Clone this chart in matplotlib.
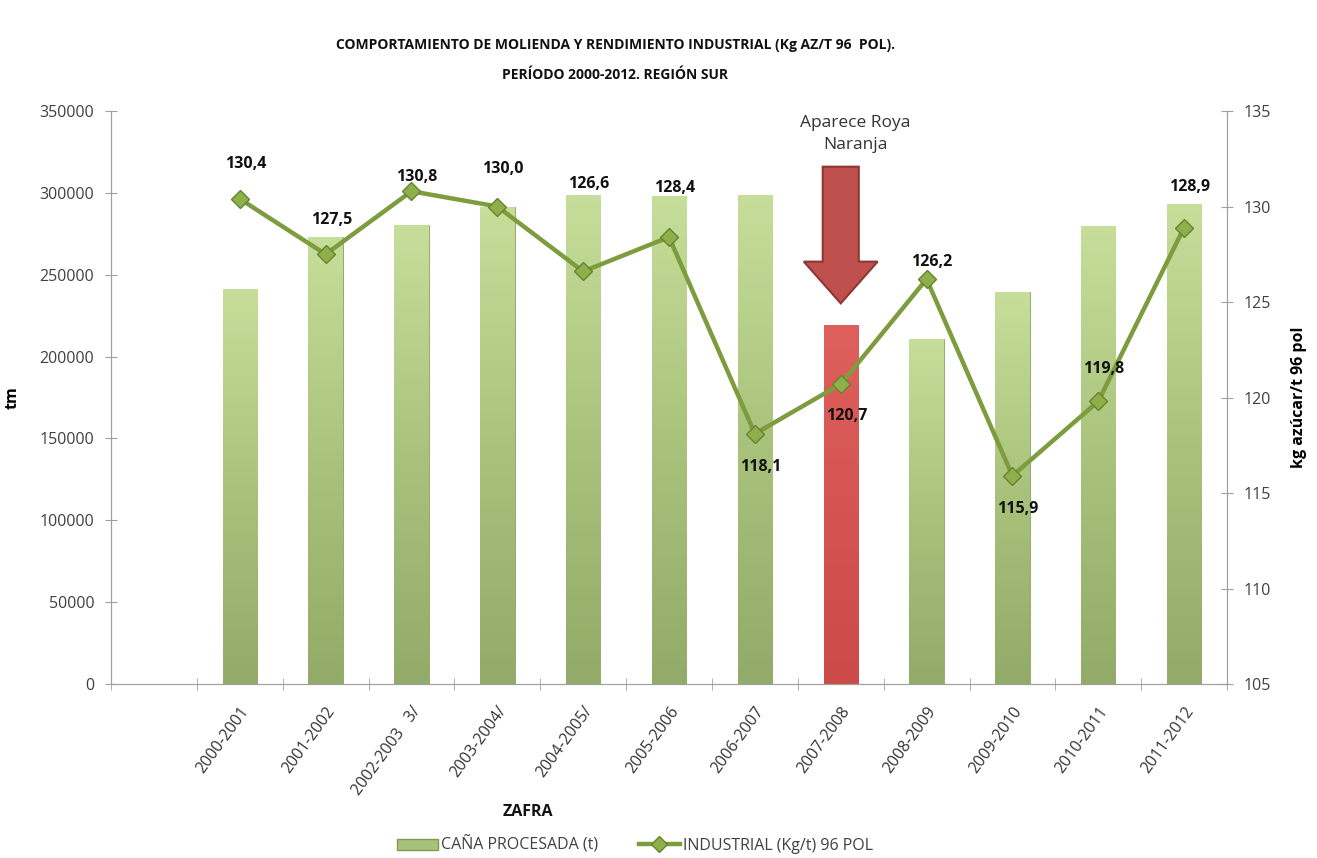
import numpy as np
import matplotlib
matplotlib.use("Agg")
import matplotlib.pyplot as plt
from matplotlib.patches import Patch, FancyArrow
from matplotlib.lines import Line2D
from matplotlib.colors import LinearSegmentedColormap

plt.rcParams['font.family'] = ['Open Sans', 'DejaVu Sans']

# datos
zafras = ['2000-2001', '2001-2002', '2002-2003   3/', '2003-2004/', '2004-2005/',
          '2005-2006', '2006-2007', '2007-2008', '2008-2009', '2009-2010',
          '2010-2011', '2011-2012']
cana = [241500, 273000, 280500, 291500, 299000, 298000, 299000, 219000,
        210500, 239500, 279500, 293500]
industrial = [130.4, 127.5, 130.8, 130.0, 126.6, 128.4, 118.1, 120.7,
              126.2, 115.9, 119.8, 128.9]
etiquetas = ['130,4', '127,5', '130,8', '130,0', '126,6', '128,4', '118,1',
             '120,7', '126,2', '115,9', '119,8', '128,9']
# desplazamiento vertical de cada etiqueta (puntos)
offs = [25, 25, 10, 27, 63, 35, -24, -23, 12, -24, 23, 29]
roya = 7  # indice de la zafra 2007-2008

verde = LinearSegmentedColormap.from_list('v', ['#92AB68', '#A9C27C', '#C6DE99'])
rojo = LinearSegmentedColormap.from_list('r', ['#CC4A48', '#DE5F5B'])

fig = plt.figure(figsize=(13.17, 8.58), dpi=100)
ax = fig.add_axes([0.0843, 0.2028, 0.8474, 0.6678])
ax2 = ax.twinx()

x = np.arange(len(zafras)) + 1.5
bars = ax.bar(x, cana, width=0.40, color='#B5D08A', edgecolor='#8AA060',
              linewidth=0.6, zorder=2)
grad = np.linspace(0, 1, 100).reshape(-1, 1)
for i, b in enumerate(bars):
    cm = rojo if i == roya else verde
    if i == roya:
        b.set_facecolor('#D4524F')
        b.set_edgecolor('#A03C3A')
    im = ax.imshow(grad, extent=[b.get_x(), b.get_x() + b.get_width(), 0, b.get_height()],
                   origin='lower', aspect='auto', cmap=cm, zorder=2.5)
    im.set_clip_path(b)

ax.set_xlim(0, 13)
ax.set_ylim(0, 350000)
ax.set_yticks(np.arange(0, 350001, 50000))
ax.set_xticks(x)
ax.set_xticklabels(zafras, rotation=54, ha='right', rotation_mode='anchor',
                   fontsize=11.5, color='#333333')
ax.set_xticks(np.arange(0, 14), minor=True)
ax.tick_params(axis='x', which='major', length=0, pad=14)
ax.tick_params(axis='x', which='minor', length=8, direction='inout', color='#A0A0A0')
ax.tick_params(axis='y', length=8, direction='inout', color='#A0A0A0',
               labelsize=11.5, labelcolor='#404040', pad=8)

ax2.set_ylim(105, 135)
ax2.set_yticks(np.arange(105, 136, 5))
ax2.tick_params(axis='y', length=8, direction='inout', color='#A0A0A0',
                labelsize=11.5, labelcolor='#404040', pad=8)

for a in (ax, ax2):
    a.spines['top'].set_visible(False)
    for s in ['left', 'right', 'bottom']:
        a.spines[s].set_color('#A0A0A0')

ax2.plot(x, industrial, color='#7D9C3E', lw=3.2, marker='D', ms=9,
         mfc='#8DB04A', mec='#66832F', mew=1, zorder=5)
for xi, yi, t, o in zip(x, industrial, etiquetas, offs):
    ax2.annotate(t, (xi, yi), xytext=(4, o), textcoords='offset points',
                 ha='center', va='center', fontsize=11.5, fontweight='bold',
                 color='#111111', zorder=6)

# flecha "Aparece Roya Naranja"
top_flecha = 316000
punta = cana[roya] + 13500
ax.add_patch(FancyArrow(x[roya], top_flecha, 0, punta - top_flecha, width=0.42,
                        head_width=0.86, head_length=25500, length_includes_head=True,
                        fc='#C0504D', ec='#8E3634', lw=1.5, zorder=7))
ax.text(x[roya] + 0.17, 336000, 'Aparece Roya\nNaranja', ha='center', va='center',
        fontsize=12.5, color='#333333', linespacing=1.45, zorder=7)

ax.set_ylabel('tm', fontsize=11.5, fontweight='bold', labelpad=14)
ax2.set_ylabel('kg azúcar/t 96 pol', fontsize=11.5, fontweight='bold', labelpad=14)

fig.text(615 / 1317, 1 - 45 / 858, 'COMPORTAMIENTO DE MOLIENDA Y RENDIMIENTO INDUSTRIAL (Kg AZ/T 96  POL).',
         ha='center', va='center', fontsize=10, fontweight='bold', color='#111111')
fig.text(615 / 1317, 1 - 75 / 858, 'PERÍODO 2000-2012. REGIÓN SUR',
         ha='center', va='center', fontsize=10, fontweight='bold', color='#111111')
fig.text(528 / 1317, 1 - 812 / 858, 'ZAFRA', ha='center', va='center',
         fontsize=11.5, fontweight='bold', color='#111111')

handles = [Patch(facecolor='#A8C27A', edgecolor='#7F9A55'),
           Line2D([0], [0], color='#7D9C3E', lw=3.2, marker='D', ms=8,
                  mfc='#8DB04A', mec='#66832F')]
fig.legend(handles, ['CAÑA PROCESADA (t)', 'INDUSTRIAL (Kg/t) 96 POL'], loc='center',
           bbox_to_anchor=(635 / 1317, 1 - 845 / 858), ncol=2, frameon=False,
           fontsize=11.5, handlelength=2.6, handletextpad=0.2, columnspacing=2.5,
           labelcolor='#404040')

fig.savefig('out.png', dpi=100)
